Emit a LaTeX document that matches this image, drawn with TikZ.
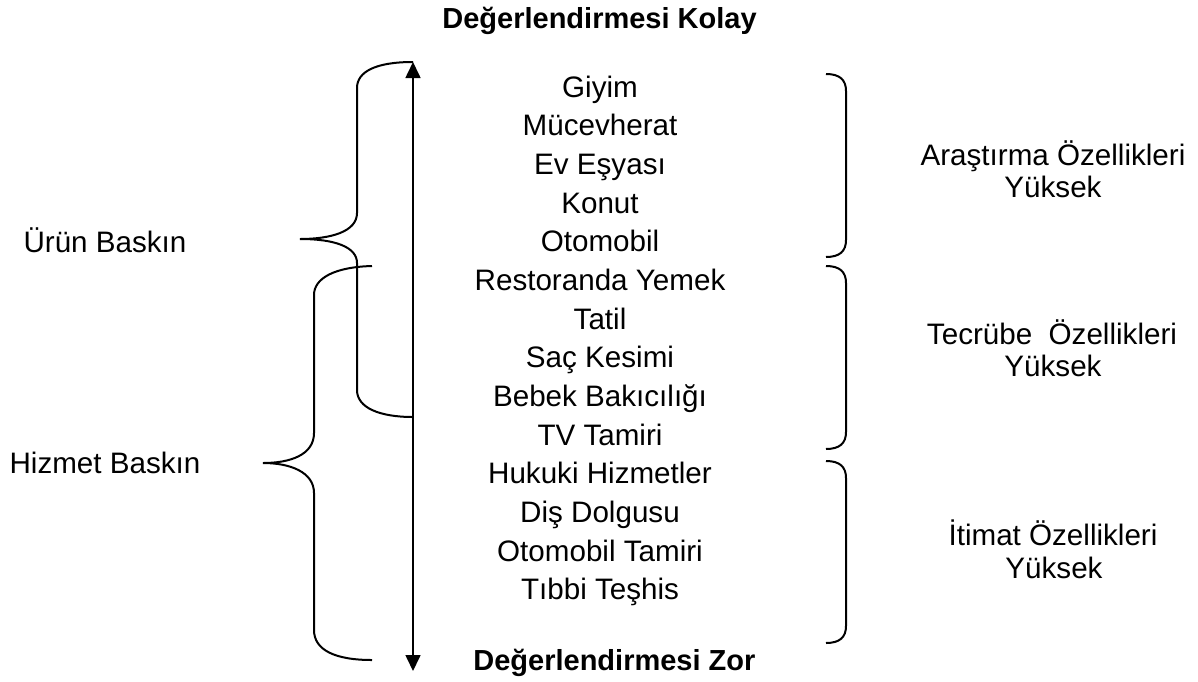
\documentclass[tikz,border=0pt]{standalone}
\usepackage{fontspec}
\setmainfont{Liberation Sans}
\usetikzlibrary{arrows.meta}

\tikzset{
  item/.style={anchor=base, inner sep=0pt, font=\fontsize{14.8}{17}\selectfont},
  head/.style={anchor=base west, inner sep=0pt, font=\fontsize{14.5}{17}\selectfont\bfseries},
  brace/.style={line width=1pt},
}

\begin{document}
\begin{tikzpicture}[x=0.5pt,y=-0.5pt]
  \useasboundingbox (0,0) rectangle (1198,681);

  % scale from easy to hard
  \node[head] (kolay) at (442,28) {Değerlendirmesi Kolay};
  \node[head] (zor) at (473,670) {Değerlendirmesi Zor};
  \coordinate (top) at (413,62);
  \coordinate (bot) at (413,671);
  \draw[{Triangle[width=7.5pt,length=8pt]}-{Triangle[width=7.5pt,length=8pt]}, line width=0.8pt] (top) -- (bot);

  % the goods and services
  \foreach \t [count=\i from 0] in {Giyim, Mücevherat, Ev Eşyası, Konut, Otomobil,
      Restoranda Yemek, Tatil, Saç Kesimi, Bebek Bakıcılığı, TV Tamiri,
      Hukuki Hizmetler, Diş Dolgusu, Otomobil Tamiri, Tıbbi Teşhis}
    \node[item] (item\i) at (600,{97+38.69*\i}) {\t};

  % left side
  \node[item] (urun) at (105,252) {Ürün Baskın};
  \node[item] (hizmet) at (105,473) {Hizmet Baskın};

  \draw[brace] (top) .. controls (375,62) and (357,72) .. (357,88) -- (357,213)
     .. controls (357,232) and (330,239) .. (300,239)
     .. controls (335,239) and (357,247) .. (357,263) -- (357,390)
     .. controls (357,408) and (380,417) .. (413,417);
  \draw[brace] (372,266) .. controls (335,267) and (314,278) .. (314,295) -- (314,433)
     .. controls (314,455) and (290,463) .. (263,463)
     .. controls (290,463) and (314,472) .. (314,493) -- (314,630)
     .. controls (314,650) and (335,660) .. (372,660);

  % right side
  \foreach \a/\b in {74/257, 266/449, 461/643}
    \draw[brace] (826,\a) .. controls (840,\a) and (846,\a+6) .. (846,\a+17)
       -- (846,\b-17) .. controls (846,\b-6) and (840,\b) .. (826,\b);

  \node[item] (arastirma) at (1053,165) {Araştırma Özellikleri};
  \node[item] (arastirmay) at (1053,197) {Yüksek};
  \node[item] (tecrube) at (1052,344) {Tecrübe~ Özellikleri};
  \node[item] (tecrubey) at (1053,376) {Yüksek};
  \node[item] (itimat) at (1053,545) {İtimat Özellikleri};
  \node[item] (itimaty) at (1054,578) {Yüksek};
\end{tikzpicture}
\end{document}
